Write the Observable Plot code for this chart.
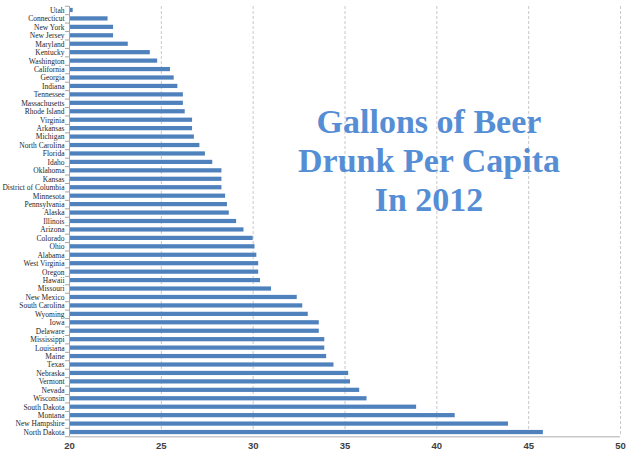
<!DOCTYPE html>
<html>
<head>
<meta charset="utf-8">
<script src="https://cdn.jsdelivr.net/npm/d3@7"></script>
<script src="https://cdn.jsdelivr.net/npm/@observablehq/plot@0.6"></script>
<style>
  html, body { margin: 0; padding: 0; background: #fff; }
  #wrap { position: relative; width: 630px; height: 455px; }
  #wrap svg { display: block; }
  #title {
    position: absolute; left: 229px; width: 400px; top: 102px;
    text-align: center; font-family: "Liberation Serif", serif; font-weight: bold;
    font-size: 34px; line-height: 39px; color: #558ed5; pointer-events: none;
  }
</style>
</head>
<body>
<div id="wrap"><div id="title">Gallons of Beer<br>Drunk Per Capita<br>In 2012</div></div>
<script>
const states = ["Utah","Connecticut","New York","New Jersey","Maryland","Kentucky","Washington","California","Georgia","Indiana","Tennessee","Massachusetts","Rhode Island","Virginia","Arkansas","Michigan","North Carolina","Florida","Idaho","Oklahoma","Kansas","District of Columbia","Minnesota","Pennsylvania","Alaska","Illinois","Arizona","Colorado","Ohio","Alabama","West Virginia","Oregon","Hawaii","Missouri","New Mexico","South Carolina","Wyoming","Iowa","Delaware","Mississippi","Louisiana","Maine","Texas","Nebraska","Vermont","Nevada","Wisconsin","South Dakota","Montana","New Hampshire","North Dakota"];
const gallons = [20.2,22.1,22.4,22.4,23.2,24.4,24.8,25.5,25.7,25.9,26.2,26.2,26.3,26.7,26.7,26.8,27.1,27.4,27.8,28.3,28.3,28.3,28.5,28.6,28.7,29.1,29.5,30.0,30.1,30.2,30.3,30.3,30.4,31.0,32.4,32.7,33.0,33.6,33.6,33.9,33.9,34.0,34.4,35.2,35.3,35.8,36.2,38.9,41.0,43.9,45.8];
const xTicks = [20,25,30,35,40,45,50];

const data = states.map((s, i) => ({state: s, value: gallons[i]}));

const chart = Plot.plot({
  width: 630,
  height: 455,
  marginLeft: 69,
  marginRight: 10,
  marginTop: 6,
  marginBottom: 19,
  style: {background: "#fff", overflow: "visible"},
  x: {domain: [20, 50], ticks: xTicks, label: null, tickSize: 0, tickPadding: 6},
  y: {domain: states, label: null, paddingInner: 0.5, paddingOuter: 0.22, round: false, tickSize: 0, tickPadding: 5},
  marks: [
    Plot.ruleX(xTicks.slice(1), {stroke: "#c8c8c8", strokeDasharray: "3,2", strokeWidth: 1}),
    Plot.barX(data, {x1: 20, x2: "value", y: "state", fill: "#4f81bd"}),
    Plot.ruleY([states[states.length - 1]], {x1: 20, x2: 50, stroke: "#c8c8c8", strokeWidth: 1.5, dy: 4.3}),
    Plot.ruleX([20], {stroke: "#a6a6a6", strokeWidth: 1}),
    Plot.ruleY(states, {x1: 19.78, x2: 20, stroke: "#a6a6a6", dy: 4.2}),
    Plot.ruleY([states[0]], {x1: 19.78, x2: 20, stroke: "#a6a6a6", dy: -4.2}),
    Plot.axisX({ticks: xTicks, tickSize: 0, tickPadding: 6, fontSize: 9.5, fontWeight: "bold", fill: "#404040", fontFamily: "Liberation Sans, Arial, sans-serif", label: null}),
    Plot.axisY({tickSize: 0, tickPadding: 5, fontSize: 7.5, fill: "#262626", fontFamily: "Liberation Serif, serif", label: null})
  ]
});
document.getElementById("wrap").prepend(chart);
</script>
</body>
</html>
